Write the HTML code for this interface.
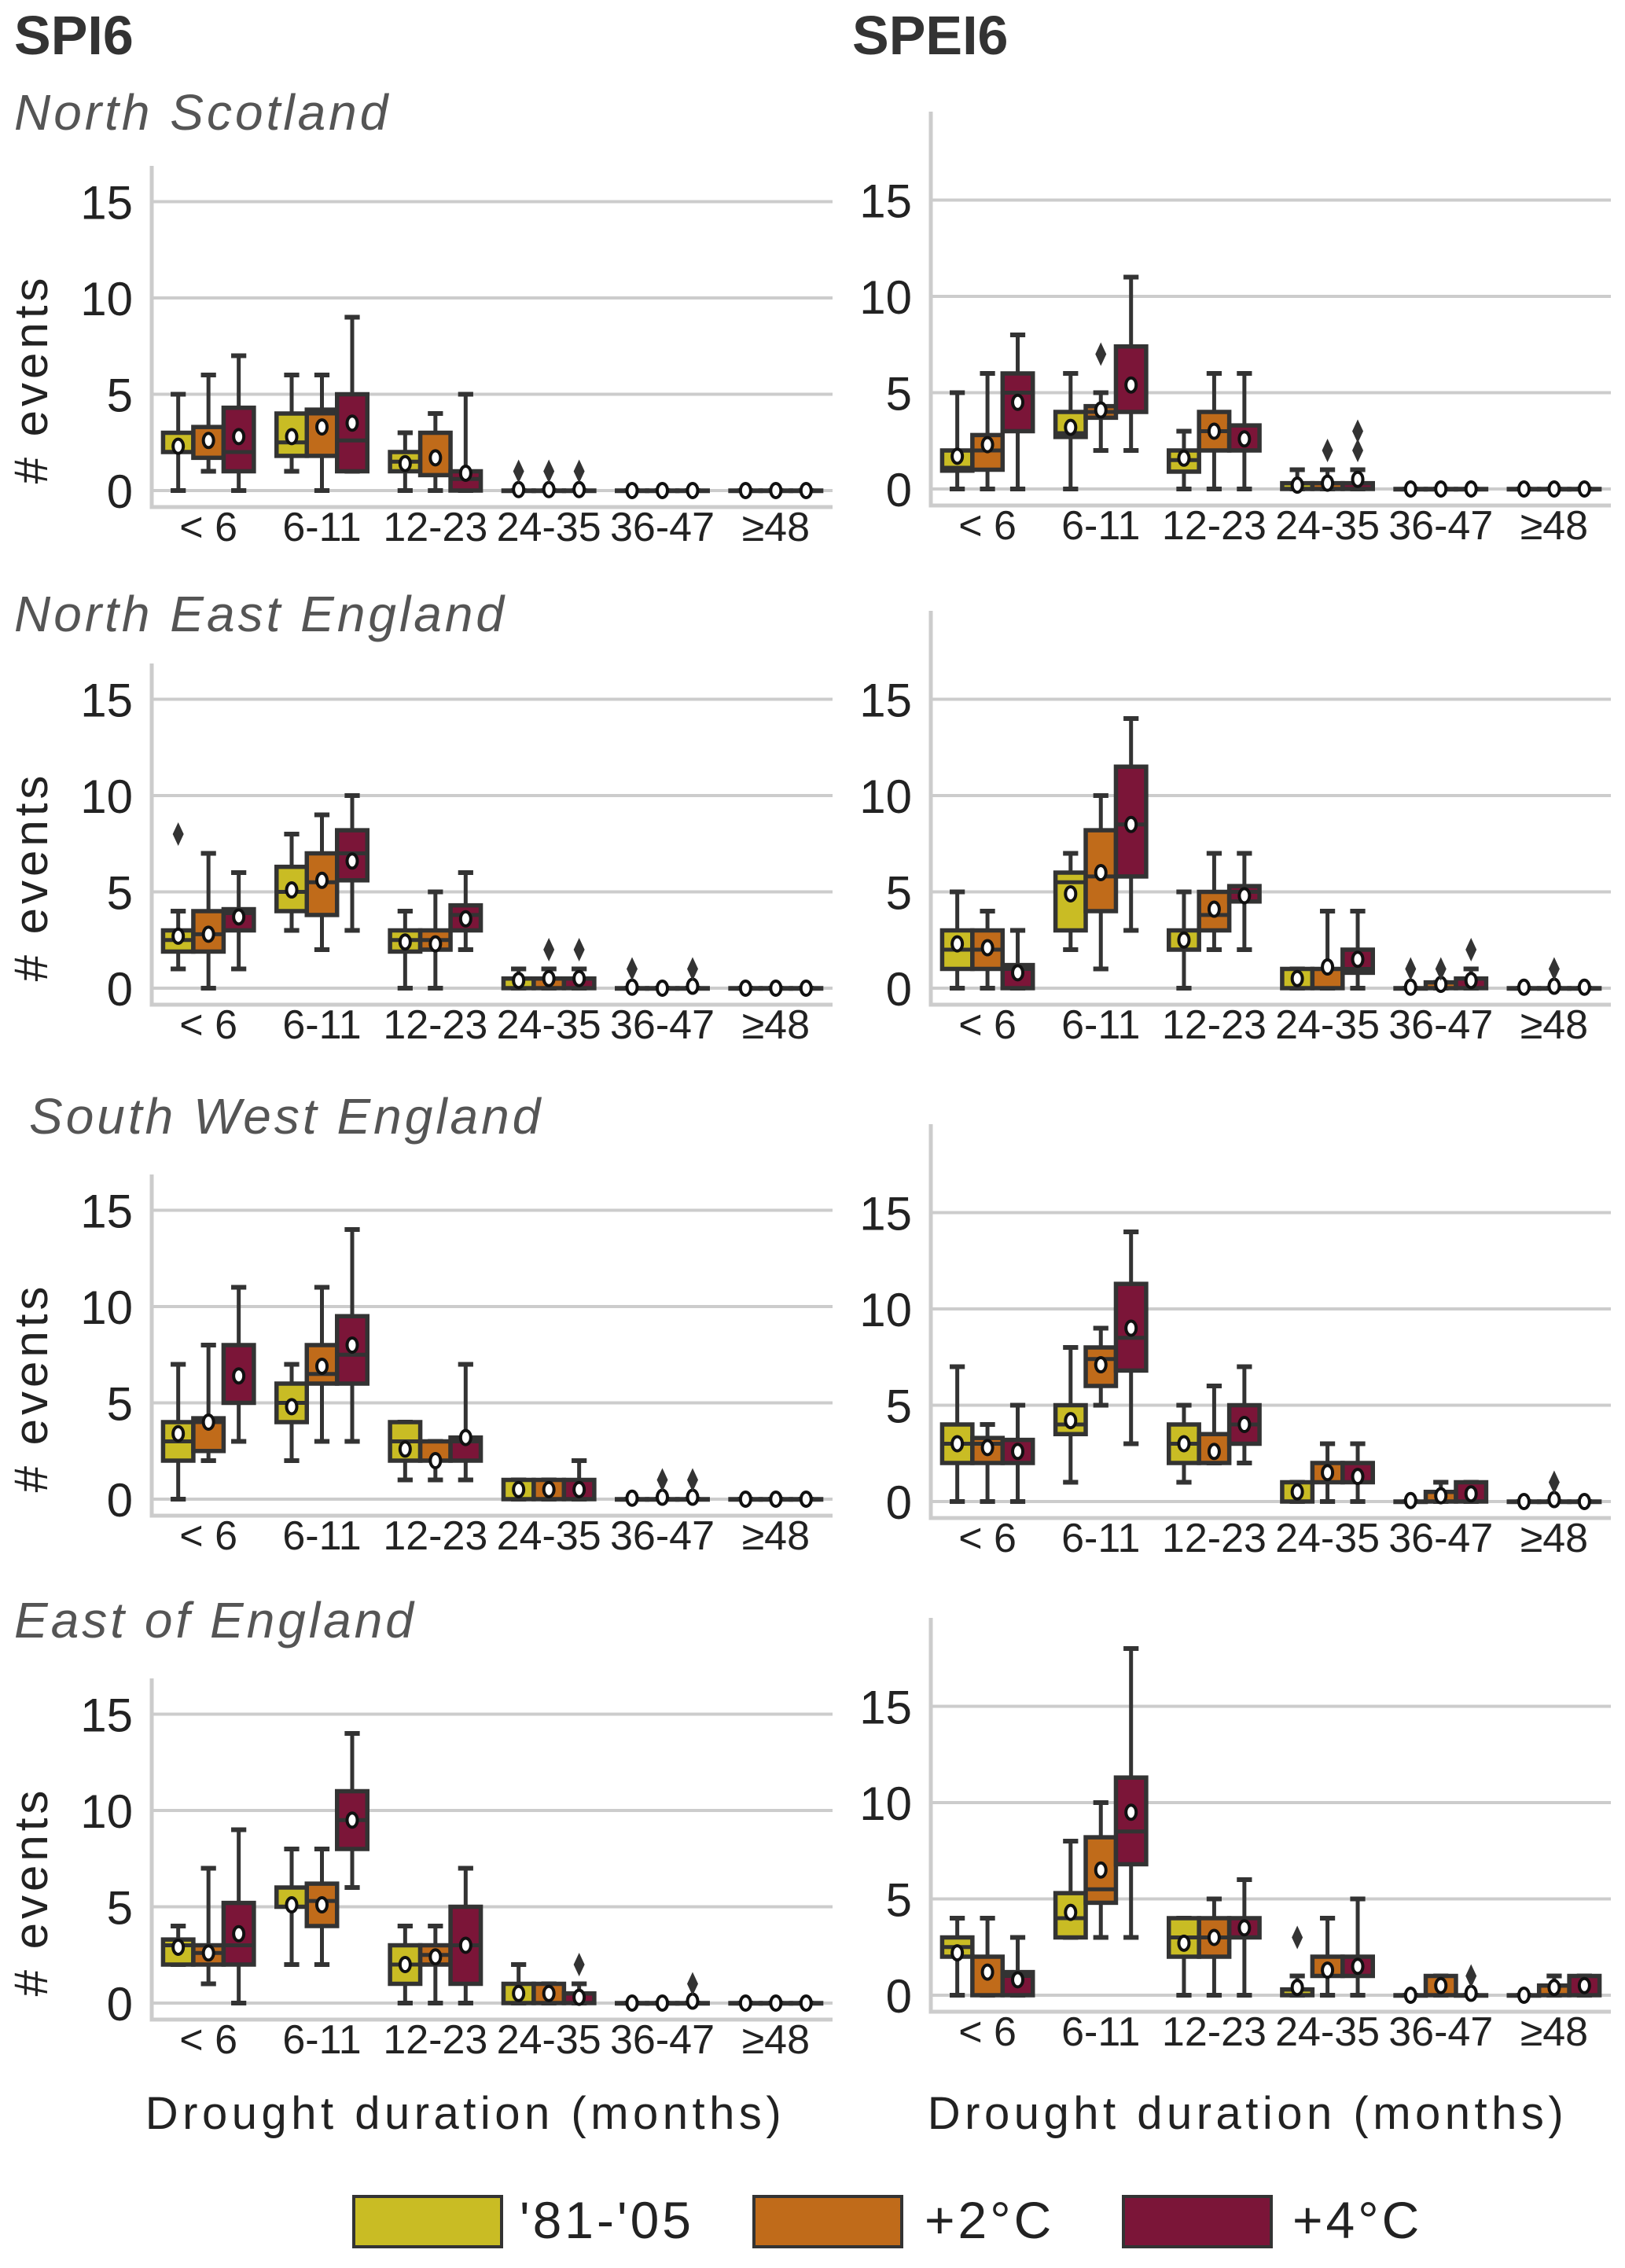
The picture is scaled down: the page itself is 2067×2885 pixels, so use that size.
<!DOCTYPE html>
<html><head><meta charset="utf-8"><style>
body{margin:0;background:#fff;}
svg text{font-family:"Liberation Sans",sans-serif;}
</style></head><body>
<svg id="c" width="2067" height="2880" viewBox="0 0 2067 2880" xmlns="http://www.w3.org/2000/svg"></svg>
<script>
// categories and series
const categories = ["< 6","6-11","12-23","24-35","36-47","≥48"];
const seriesNames = ["'81-'05","+2°C","+4°C"];
const yTicks = [0,5,10,15];
// box stats per panel: [lo,q1,med,q3,hi,mean] per category x series
const spiNS = [[0,2,2,3,5,2.3],[1,1.7,1.7,3.3,6,2.6],[0,1,2,4.3,7,2.8],
 [1,1.8,2.5,4,6,2.8],[0,1.8,4,4.2,6,3.3],[1,1,2.6,5,9,3.5],
 [0,1,1.5,2,3,1.4],[0,0.8,0.8,3,4,1.7],[0,0,0.6,1,5,0.9],
 [0,0,0,0,0,0.05],[0,0,0,0,0,0.05],[0,0,0,0,0,0.05],
 [0,0,0,0,0,0],[0,0,0,0,0,0],[0,0,0,0,0,0],
 [0,0,0,0,0,0],[0,0,0,0,0,0],[0,0,0,0,0,0]];
const spiNSout = [[9,1],[10,1],[11,1]];
const speiNS = [[0,0.95,1.1,2,5,1.7],[0,1,2,2.8,6,2.3],[0,3,5,6,8,4.5],
 [0,2.7,2.9,4,6,3.2],[2,3.7,4,4.3,5,4.1],[2,4,4,7.4,11,5.4],
 [0,0.9,1.5,2,3,1.6],[0,2,3,4,6,3.0],[0,2,2,3.3,6,2.6],
 [0,0,0,0.3,1,0.2],[0,0,0,0.3,1,0.3],[0,0,0,0.3,1,0.5],
 [0,0,0,0,0,0],[0,0,0,0,0,0],[0,0,0,0,0,0],
 [0,0,0,0,0,0],[0,0,0,0,0,0],[0,0,0,0,0,0]];
const speiNSout = [[4,7],[10,2],[11,2],[11,3]];
const spiNE = [[1,1.9,2.5,3,4,2.7],[0,1.9,2.8,4,7,2.8],[1,3,3.9,4.1,6,3.7],
 [3,4,5,6.3,8,5.1],[2,3.8,5.5,7,9,5.6],[3,5.6,7,8.2,10,6.6],
 [0,1.9,2.5,3,4,2.4],[0,2,2.5,3,5,2.3],[2,3,3.8,4.3,6,3.6],
 [0,0,0,0.5,1,0.4],[0,0,0,0.5,1,0.5],[0,0,0,0.5,1,0.5],
 [0,0,0,0,0,0.05],[0,0,0,0,0,0],[0,0,0,0,0,0.1],
 [0,0,0,0,0,0],[0,0,0,0,0,0],[0,0,0,0,0,0]];
const spiNEout = [[0,8],[10,2],[11,2],[12,1],[14,1]];
const speiNE = [[0,1,2,3,5,2.3],[0,1,2,3,4,2.1],[0,0,1,1.2,3,0.8],
 [2,3,5.5,6,7,4.9],[1,4,5.8,8.2,10,6],[3,5.8,8.5,11.5,14,8.5],
 [0,2,3,3,5,2.5],[2,3,3.8,5,7,4.1],[2,4.5,5,5.3,7,4.8],
 [0,0,1,1,1,0.5],[0,0,1,1,4,1.1],[0,0.8,1,2,4,1.5],
 [0,0,0,0,0,0.05],[0,0,0,0.3,0.3,0.2],[0,0,0,0.5,1,0.4],
 [0,0,0,0,0,0.05],[0,0,0,0,0,0.1],[0,0,0,0,0,0.05]];
const speiNEout = [[12,1],[13,1],[14,2],[16,1]];
const spiSW = [[0,2,3,4,7,3.4],[2,2.5,4,4.2,8,4],[3,5,5,8,11,6.4],
 [2,4,5,6,7,4.8],[3,6,6.5,8,11,6.9],[3,6,7.5,9.5,14,8],
 [1,2,3,4,4,2.6],[1,2,2,3,3,2],[1,2,3,3.2,7,3.2],
 [0,0,1,1,1,0.5],[0,0,1,1,1,0.5],[0,0,1,1,2,0.5],
 [0,0,0,0,0,0.05],[0,0,0,0,0,0.1],[0,0,0,0,0,0.1],
 [0,0,0,0,0,0],[0,0,0,0,0,0],[0,0,0,0,0,0]];
const spiSWout = [[13,1],[14,1]];
const speiSW = [[0,2,3,4,7,3],[0,2,3,3.3,4,2.8],[0,2,2,3.2,5,2.6],
 [1,3.5,4,5,8,4.2],[5,6,7.4,8,9,7.1],[3,6.8,8.5,11.3,14,9],
 [1,2,3,4,5,3],[2,2,2,3.5,6,2.6],[2,3,4,5,7,4],
 [0,0,1,1,1,0.5],[0,1,1,2,3,1.5],[0,1,1,2,3,1.3],
 [0,0,0,0,0,0.05],[0,0,0,0.5,1,0.3],[0,0,0,1,1,0.4],
 [0,0,0,0,0,0],[0,0,0,0,0,0.1],[0,0,0,0,0,0]];
const speiSWout = [[16,1]];
const spiEE = [[2,2,3,3.3,4,2.9],[1,2,2.6,3,7,2.6],[0,2,3,5.2,9,3.6],
 [2,5,5,6,8,5.1],[2,4,5.3,6.2,8,5.1],[6,8,9.5,11,14,9.5],
 [0,1,2,3,4,2],[0,2,2.5,3,4,2.4],[0,1,3,5,7,3],
 [0,0,0,1,2,0.5],[0,0,1,1,1,0.5],[0,0,0,0.5,1,0.3],
 [0,0,0,0,0,0],[0,0,0,0,0,0],[0,0,0,0,0,0.1],
 [0,0,0,0,0,0],[0,0,0,0,0,0],[0,0,0,0,0,0]];
const spiEEout = [[11,2],[14,1]];
const speiEE = [[0,2,2.5,3,4,2.2],[0,0,2,2,4,1.2],[0,0,1,1.2,3,0.8],
 [3,3,4,5.3,8,4.3],[3,4.8,5.5,8.2,10,6.5],[3,6.8,8.5,11.3,18,9.5],
 [0,2,3,4,4,2.7],[0,2,3,4,5,3],[0,3,4,4,6,3.5],
 [0,0,0,0.3,1,0.4],[0,1,1,2,4,1.3],[0,1,1,2,5,1.5],
 [0,0,0,0,0,0],[0,0,0,1,1,0.5],[0,0,0,0,0,0.1],
 [0,0,0,0,0,0],[0,0,0,0.5,1,0.4],[0,0,0,1,1,0.5]];
const speiEEout = [[9,3],[14,1]];

const NS="http://www.w3.org/2000/svg";
const svg=document.getElementById('c');
const colors=["#c9bc24","#c06b1a","#7b1538"];
function mk(tag,attrs,parent,txt){const e=document.createElementNS(NS,tag);for(const k in attrs)e.setAttribute(k,attrs[k]);if(txt!==undefined)e.textContent=txt;(parent||svg).appendChild(e);return e;}

const rowY0=[624,1257,1907,2548];
const unit=24.5;
function panel(name,x0,x1,y0,topOff,stats,outs,showYLabel){
  const g=mk('g',{});
  
  
  const yS=v=>y0-v*unit;
  const cw=(x1-x0)/6, bw=cw*0.8/3;
  const xS=(ci,si)=>x0+cw*ci+cw*0.1+bw*si+bw/2;
  yTicks.forEach(t=>{
    const l=mk('line',{x1:x0,x2:x1,y1:yS(t),y2:yS(t),stroke:'#cccccc','stroke-width':4},g);
    
    
    const tx=mk('text',{x:x0-24,y:yS(t)+22,'text-anchor':'end','font-size':60,fill:'#222'},g,String(t));
    
    
  });
  const ax=mk('path',{d:`M${x0} ${y0-topOff} V${y0+21} H${x1}`,fill:'none',stroke:'#cccccc','stroke-width':5},g);
  
  
  categories.forEach((c,ci)=>{
    const t=mk('text',{x:x0+cw*ci+cw/2,y:y0+64,'text-anchor':'middle','font-size':52,fill:'#222'},g,c);
    
    
  });
  stats.forEach((s,i)=>{
    const ci=Math.floor(i/3), si=i%3, cx=xS(ci,si);
    const bg=mk('g',{},g);
    
    
    const [lo,q1,med,q3,hi,mean]=s;
    mk('line',{x1:cx,x2:cx,y1:yS(hi),y2:yS(q3),stroke:'#333','stroke-width':5},bg);
    mk('line',{x1:cx,x2:cx,y1:yS(q1),y2:yS(lo),stroke:'#333','stroke-width':5},bg);
    mk('line',{x1:cx-bw/4,x2:cx+bw/4,y1:yS(hi),y2:yS(hi),stroke:'#333','stroke-width':6},bg);
    mk('line',{x1:cx-bw/4,x2:cx+bw/4,y1:yS(lo),y2:yS(lo),stroke:'#333','stroke-width':6},bg);
    const h=Math.max(yS(q1)-yS(q3),0.5);
    mk('rect',{x:cx-bw/2,y:yS(q3),width:bw,height:h,fill:colors[si],stroke:'#333','stroke-width':5.5},bg);
    mk('line',{x1:cx-bw/2,x2:cx+bw/2,y1:yS(med),y2:yS(med),stroke:'#333','stroke-width':5},bg);
    mk('ellipse',{cx:cx,cy:yS(mean),rx:6.5,ry:9,fill:'#fff',stroke:'#111','stroke-width':4},bg);
  });
  outs.forEach(o=>{
    const cx=xS(Math.floor(o[0]/3),o[0]%3), cy=yS(o[1]);
    const d=mk('path',{d:`M${cx} ${cy-15} L${cx+7} ${cy} L${cx} ${cy+15} L${cx-7} ${cy} Z`,fill:'#333'},g);
    
    
  });
  if(showYLabel){
    const t=mk('text',{x:0,y:0,'text-anchor':'middle','font-size':60,fill:'#222','letter-spacing':5,transform:`translate(60 ${y0-142}) rotate(-90)`},g,'# events');
    
    
  }
}
const L=[193,1059], R=[1184,2049];
panel('spi6-north-scotland',L[0],L[1],rowY0[0],413,spiNS,spiNSout,true);
panel('spei6-north-scotland',R[0],R[1],rowY0[0]-2,480,speiNS,speiNSout,false);
panel('spi6-north-east-england',L[0],L[1],rowY0[1],413,spiNE,spiNEout,true);
panel('spei6-north-east-england',R[0],R[1],rowY0[1],480,speiNE,speiNEout,false);
panel('spi6-south-west-england',L[0],L[1],rowY0[2],413,spiSW,spiSWout,true);
panel('spei6-south-west-england',R[0],R[1],rowY0[2]+3,480,speiSW,speiSWout,false);
panel('spi6-east-of-england',L[0],L[1],rowY0[3],413,spiEE,spiEEout,true);
panel('spei6-east-of-england',R[0],R[1],rowY0[3]-10,480,speiEE,speiEEout,false);

function txt(name,x,y,s,attrs){const t=mk('text',Object.assign({x:x,y:y},attrs),svg,s);return t;}
txt('spi6-title',18,69,'SPI6',{'font-size':70,'font-weight':'bold',fill:'#333'});
txt('spei6-title',1084,69,'SPEI6',{'font-size':70,'font-weight':'bold',fill:'#333'});
const rt={'font-size':64,'font-style':'italic',fill:'#555','letter-spacing':4};
txt('region-north-scotland',18,165,'North Scotland',rt);
txt('region-north-east-england',18,803,'North East England',rt);
txt('region-south-west-england',37,1442,'South West England',rt);
txt('region-east-of-england',18,2083,'East of England',rt);
const xt={'font-size':58,fill:'#222','letter-spacing':5.5,'text-anchor':'middle'};
txt('x-axis-title-spi6',592,2708,'Drought duration (months)',xt);
txt('x-axis-title-spei6',1587,2708,'Drought duration (months)',xt);
const legX=[450,959,1429], legTX=[661,1176,1644];
seriesNames.forEach((n,i)=>{
  const r=mk('rect',{x:legX[i],y:2794,width:188,height:64,fill:colors[i],stroke:'#333','stroke-width':4});
  
  
  const t=mk('text',{x:legTX[i],y:2847,'font-size':66,fill:'#222','letter-spacing':4},svg,n);
  
  
});
</script>
</body></html>
